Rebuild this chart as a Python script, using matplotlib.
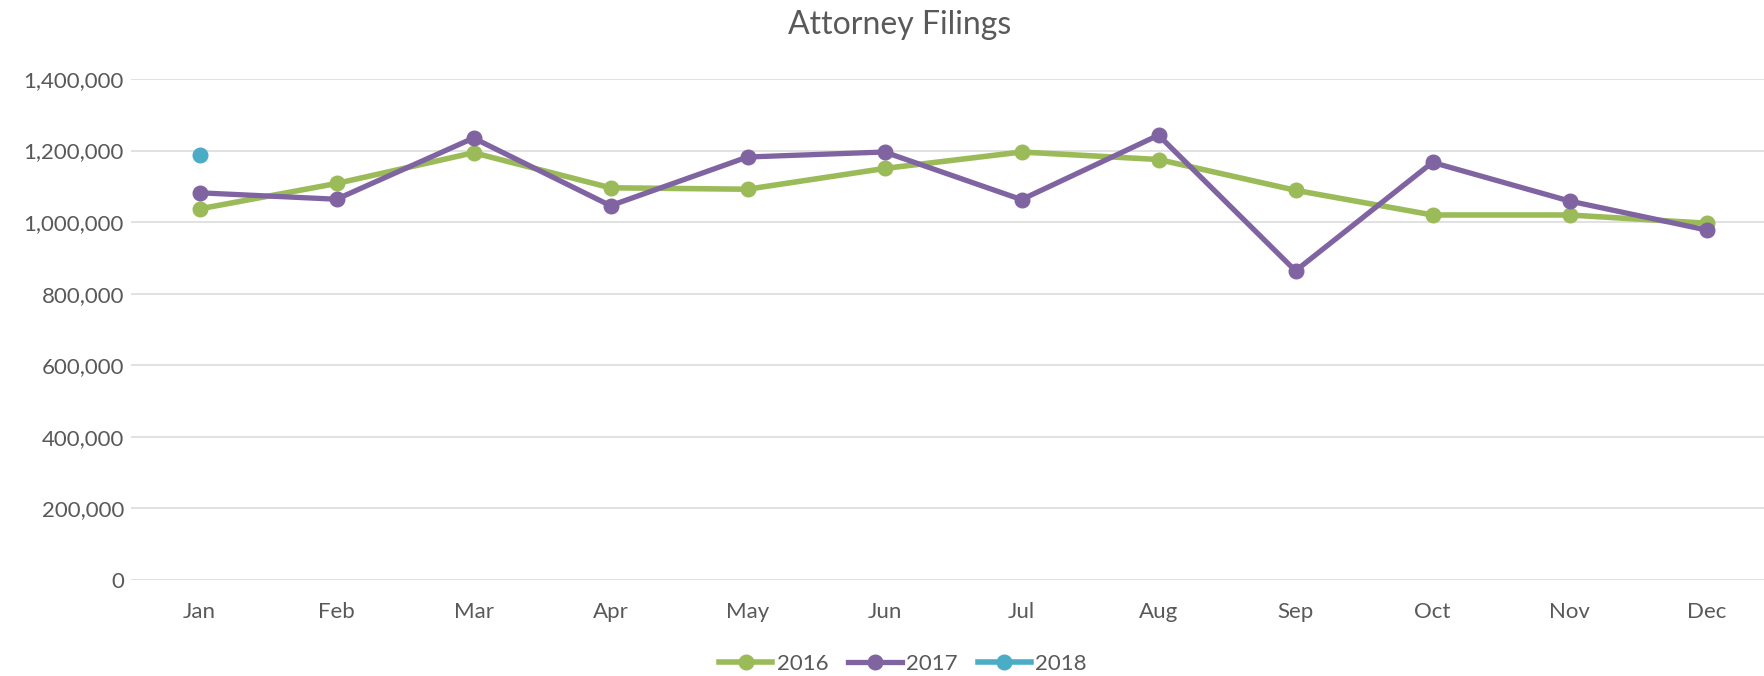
import matplotlib.pyplot as plt
from matplotlib.ticker import FuncFormatter

# data
months = ['Jan', 'Feb', 'Mar', 'Apr', 'May', 'Jun', 'Jul', 'Aug', 'Sep', 'Oct', 'Nov', 'Dec']
filings_2016 = [1037000, 1108000, 1194000, 1096000, 1092000, 1150000,
                1196000, 1175000, 1089000, 1020000, 1020000, 997000]
filings_2017 = [1082000, 1064000, 1235000, 1046000, 1182000, 1196000,
                1063000, 1243000, 864000, 1167000, 1059000, 978000]
filings_2018 = [1187000]
y_ticks = [0, 200000, 400000, 600000, 800000, 1000000, 1200000, 1400000]

text_col = '#595959'
plt.rcParams['font.family'] = ['Lato', 'DejaVu Sans']

fig = plt.figure(figsize=(17.64, 6.76), dpi=100)
ax = fig.add_axes([131 / 1764, 1 - 580 / 676, 1644 / 1764, 501 / 676])

x = list(range(len(months)))
ax.plot(x, filings_2016, color='#9BBB59', lw=4.0, marker='o', ms=10.5, label='2016', zorder=3)
ax.plot(x, filings_2017, color='#8064A2', lw=3.8, marker='o', ms=10.5, label='2017', zorder=4)
ax.plot(x[:len(filings_2018)], filings_2018, color='#4BACC6', lw=4.0, marker='o', ms=10.5,
        label='2018', zorder=5)

ax.set_xlim(-0.5, len(months) - 0.5)
ax.set_ylim(0, 1400000)
ax.set_yticks(y_ticks)
ax.yaxis.set_major_formatter(FuncFormatter(lambda v, p: f'{int(v):,}'))
ax.set_xticks(x)
ax.set_xticklabels(months)
ax.grid(axis='y', color='#D9D9D9', lw=1.1)
ax.set_axisbelow(True)
for s in ax.spines.values():
    s.set_visible(False)
ax.tick_params(axis='both', length=0, labelsize=16, colors=text_col)
ax.tick_params(axis='y', pad=5)
ax.tick_params(axis='x', pad=16)

fig.text(900 / 1764, 1 - 25 / 676, 'Attorney Filings', ha='center', va='center',
         fontsize=23, color=text_col)

leg = fig.legend(loc='center', bbox_to_anchor=(903 / 1764, 1 - 664 / 676), ncol=3,
                 frameon=False, fontsize=16, handlelength=2.4, handletextpad=0.2,
                 columnspacing=0.9)
for t in leg.get_texts():
    t.set_color(text_col)

fig.savefig('out.png', dpi=100)
